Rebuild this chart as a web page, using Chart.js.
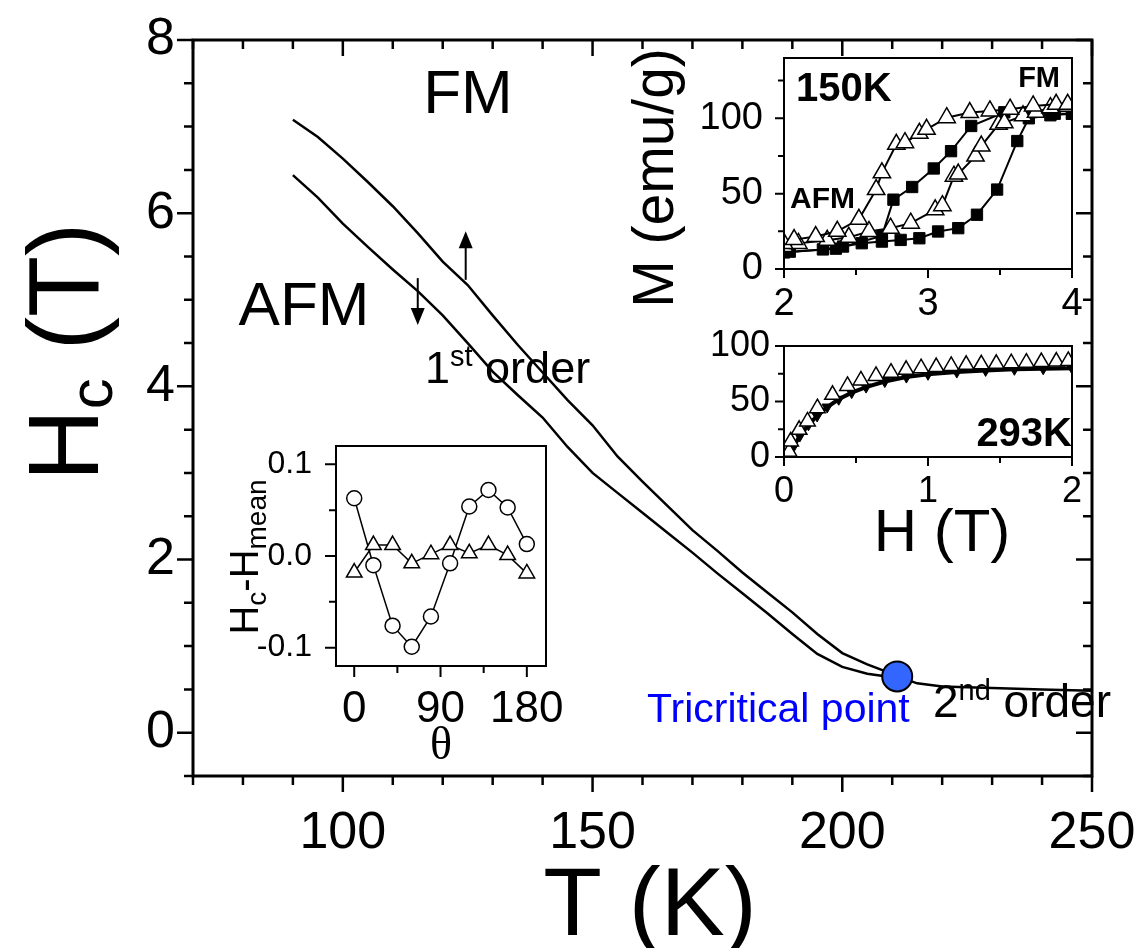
<!DOCTYPE html>
<html>
<head>
<meta charset="utf-8">
<script src="https://cdn.jsdelivr.net/npm/chart.js@4.4.0/dist/chart.umd.min.js"></script>
<style>
  html, body { margin: 0; padding: 0; background: #fff; }
  #wrap { position: relative; width: 1148px; height: 948px; overflow: hidden; }
  #wrap canvas { position: absolute; left: 0; top: 0; }
</style>
</head>
<body>
<div id="wrap">
  <canvas id="mainChart" width="1148" height="948"></canvas>
  <canvas id="thetaChart" width="1148" height="948"></canvas>
  <canvas id="loop150Chart" width="1148" height="948"></canvas>
  <canvas id="curve293Chart" width="1148" height="948"></canvas>
</div>
<script>
const FONT = "'Liberation Sans', Arial, Helvetica, sans-serif";
const SERIF = "'Liberation Serif', 'Times New Roman', serif";

// Critical field vs temperature (first-order branches)
const tempK = [90, 95, 100, 105, 110, 115, 120, 125, 130, 135, 140, 145, 150, 155, 160, 165, 170, 175, 180, 185, 190, 195, 200, 205, 210];
const hcIncreasing = [7.08, 6.88, 6.63, 6.36, 6.08, 5.77, 5.44, 5.17, 4.82, 4.48, 4.16, 3.84, 3.55, 3.19, 2.90, 2.62, 2.34, 2.10, 1.85, 1.62, 1.39, 1.14, 0.92, 0.79, 0.68];
const hcDecreasing = [6.44, 6.18, 5.88, 5.61, 5.35, 5.10, 4.82, 4.50, 4.17, 3.90, 3.64, 3.30, 3.00, 2.77, 2.54, 2.31, 2.08, 1.84, 1.61, 1.38, 1.14, 0.91, 0.76, 0.68, 0.64];
// second-order line above the tricritical point
const tempSecond = [211, 215, 220, 230, 240, 250];
const hcSecond = [0.65, 0.57, 0.535, 0.515, 0.50, 0.485];
const tricriticalT = 211;
const tricriticalH = 0.65;
const mainXTicks = [100, 150, 200, 250];
const mainYTicks = [0, 2, 4, 6, 8];

// Angular dependence of Hc - Hmean
const thetaDeg = [0, 20, 40, 60, 80, 100, 120, 140, 160, 180];
const dHcCircles = [0.063, -0.010, -0.076, -0.099, -0.066, -0.008, 0.054, 0.072, 0.053, 0.013];
const dHcTriangles = [-0.018, 0.012, 0.012, -0.008, 0.002, 0.012, 0.003, 0.012, 0.001, -0.019];
const thetaXTicks = [0, 90, 180];
const thetaYTicks = [-0.1, 0, 0.1];

// M(H) at 150 K: open triangles and filled squares, low- and high-field branches
const h150TriLow = [2.00, 2.07, 2.22, 2.37, 2.52, 2.64, 2.68, 2.78, 2.84, 2.94, 2.99, 3.13, 3.29, 3.43, 3.57, 3.73, 3.89, 3.97];
const m150TriLow = [17, 19.5, 21.5, 25, 33, 52.7, 63.8, 82.7, 83.8, 90, 92.7, 100.4, 103.8, 104.9, 106, 108.2, 109.3, 109.3];
const h150TriHigh = [2.00, 2.10, 2.30, 2.45, 2.59, 2.74, 2.88, 3.05, 3.10, 3.18, 3.21, 3.33, 3.37, 3.49, 3.53, 3.66, 3.75, 3.85, 3.97];
const m150TriHigh = [15, 17, 19, 21, 24.9, 27.1, 30.4, 39.3, 42, 61.6, 63, 74.9, 81.6, 96, 97, 101.6, 104, 107, 108];
const h150SqLow = [2.04, 2.36, 2.68, 2.76, 2.89, 3.04, 3.16, 3.30, 3.53, 3.70, 3.88, 4.00];
const m150SqLow = [11.5, 13.5, 22, 46, 54.4, 66.7, 78.2, 94.9, 104, 103, 103, 103];
const h150SqHigh = [2.00, 2.27, 2.41, 2.54, 2.68, 2.81, 2.94, 3.07, 3.21, 3.34, 3.48, 3.62, 3.70, 3.85, 4.00];
const m150SqHigh = [11, 13, 14.9, 17.1, 18.2, 19.3, 20.4, 24.9, 27.1, 36, 52.7, 84.9, 100, 102, 103];
const loopXTicks = [2, 3, 4];
const loopYTicks = [0, 50, 100];

// M(H) at 293 K
const h293Open = [0.035, 0.046, 0.105, 0.163, 0.232, 0.337, 0.441, 0.534, 0.639, 0.743, 0.848, 0.952, 1.057, 1.161, 1.265, 1.370, 1.474, 1.578, 1.683, 1.787, 1.891, 1.974];
const m293Open = [4.8, 14, 24.5, 32, 44, 56, 64, 69, 73, 76, 78.5, 80, 81, 82, 83, 83.5, 84, 84.5, 85, 85.5, 86, 86.5];
const h293Filled = [0.03, 0.06, 0.11, 0.17, 0.23, 0.30, 0.38, 0.47, 0.57, 0.70, 0.85, 1.0, 1.2, 1.4, 1.6, 1.8, 2.0];
const m293Filled = [2, 8, 19, 29, 37, 45, 52, 58, 63, 68, 72, 74.5, 76.5, 78, 79, 79.5, 80];
const roomXTicks = [0, 1, 2];
const roomYTicks = [0, 50, 100];

const pts = (xs, ys) => xs.map((x, i) => ({ x: x, y: ys[i] }));

// Box around the plot area plus major/minor tick marks on chosen sides
const framePlugin = {
  id: 'frame',
  beforeDraw(chart, args, opts) {
    if (!opts.fill) return;
    const a = chart.chartArea, ctx = chart.ctx;
    ctx.save();
    ctx.fillStyle = opts.fill;
    ctx.fillRect(a.left, a.top, a.right - a.left, a.bottom - a.top);
    ctx.restore();
  },
  afterDraw(chart, args, opts) {
    if (!opts.sides) return;
    const a = chart.chartArea, ctx = chart.ctx;
    ctx.save();
    ctx.strokeStyle = '#000';
    ctx.lineWidth = opts.tickWidth;
    ctx.beginPath();
    opts.sides.forEach(s => {
      const scale = chart.scales[s.axis];
      const majors = scale.ticks.map(t => t.value);
      const n0 = Math.ceil(scale.min / s.step - 1e-6);
      const n1 = Math.floor(scale.max / s.step + 1e-6);
      for (let n = n0; n <= n1; n++) {
        const v = n * s.step;
        const major = majors.some(m => Math.abs(m - v) < s.step * 1e-3);
        const len = (major ? s.major : s.minor) * (s.out ? 1 : -1);
        const p = scale.getPixelForValue(v);
        if (s.side === 'bottom') { ctx.moveTo(p, a.bottom); ctx.lineTo(p, a.bottom + len); }
        if (s.side === 'top') { ctx.moveTo(p, a.top); ctx.lineTo(p, a.top - len); }
        if (s.side === 'left') { ctx.moveTo(a.left, p); ctx.lineTo(a.left - len, p); }
        if (s.side === 'right') { ctx.moveTo(a.right, p); ctx.lineTo(a.right + len, p); }
      }
    });
    ctx.stroke();
    ctx.lineWidth = opts.lineWidth;
    ctx.strokeRect(a.left, a.top, a.right - a.left, a.bottom - a.top);
    ctx.restore();
  }
};

// Free text (with sub/superscripts) and arrows
const notesPlugin = {
  id: 'notes',
  afterDraw(chart, args, opts) {
    const ctx = chart.ctx;
    (opts.items || []).forEach(item => {
      ctx.save();
      ctx.translate(item.x, item.y);
      if (item.rotate) ctx.rotate(item.rotate);
      ctx.textAlign = 'left';
      ctx.textBaseline = 'alphabetic';
      const fontOf = p => (p.weight || item.weight || 'normal') + ' ' + p.size + 'px ' + (p.family || item.family || FONT);
      let total = 0;
      const widths = item.parts.map(p => {
        ctx.font = fontOf(p);
        const w = ctx.measureText(p.t).width;
        total += w;
        return w;
      });
      let x = item.align === 'center' ? -total / 2 : (item.align === 'right' ? -total : 0);
      item.parts.forEach((p, i) => {
        ctx.font = fontOf(p);
        ctx.fillStyle = p.color || item.color || '#000';
        ctx.fillText(p.t, x, p.dy || 0);
        x += widths[i];
      });
      ctx.restore();
    });
    (opts.arrows || []).forEach(ar => {
      const px = chart.scales.x.getPixelForValue(ar.at);
      const p0 = chart.scales.y.getPixelForValue(ar.from);
      const p1 = chart.scales.y.getPixelForValue(ar.to);
      const dir = Math.sign(p1 - p0);
      ctx.save();
      ctx.strokeStyle = '#000';
      ctx.fillStyle = '#000';
      ctx.lineWidth = 2;
      ctx.beginPath();
      ctx.moveTo(px, p0);
      ctx.lineTo(px, p1 - dir * 12);
      ctx.stroke();
      ctx.beginPath();
      ctx.moveTo(px, p1);
      ctx.lineTo(px - 7, p1 - dir * 17);
      ctx.lineTo(px + 7, p1 - dir * 17);
      ctx.closePath();
      ctx.fill();
      ctx.restore();
    });
  }
};

Chart.register(framePlugin, notesPlugin);

function axis(o) {
  const ticks = { font: { family: FONT, size: o.size }, color: '#000', padding: o.padding, autoSkip: false, maxRotation: 0, minRotation: 0 };
  if (o.format) ticks.callback = o.format;
  return {
    type: 'linear',
    position: o.position,
    min: o.min,
    max: o.max,
    grid: { display: false, drawTicks: false },
    border: { display: false },
    ticks: ticks,
    afterBuildTicks: s => { s.ticks = o.values.map(v => ({ value: v })); },
    afterFit: s => {
      if (o.width !== undefined) s.width = o.width;
      if (o.height !== undefined) s.height = o.height;
      // keep the plot box where the layout padding puts it
      s.paddingLeft = s.paddingRight = s.paddingTop = s.paddingBottom = 0;
    }
  };
}

// box = [left, top, right, bottom] of the plot area in page pixels
function makeChart(id, box, scales, datasets, plugins) {
  return new Chart(document.getElementById(id), {
    type: 'line',
    data: { datasets: datasets },
    options: {
      responsive: false,
      animation: false,
      events: [],
      layout: { padding: { left: 0, top: box[1], right: 1148 - box[2], bottom: 0 } },
      elements: { line: { tension: 0 } },
      scales: scales,
      plugins: Object.assign({ legend: { display: false }, tooltip: { enabled: false } }, plugins)
    }
  });
}

// ---- main phase diagram ----
const mainBox = [193, 40, 1092, 776];
makeChart('mainChart', mainBox, {
  x: axis({ position: 'bottom', min: 70, max: 250, values: mainXTicks, size: 52, padding: 26, height: 948 - mainBox[3] }),
  y: axis({ position: 'left', min: -0.5, max: 8, values: mainYTicks, size: 52, padding: 18, width: mainBox[0] })
}, [
  { data: [{ x: tricriticalT, y: tricriticalH }], showLine: false, pointRadius: 15, pointBackgroundColor: '#3366ff', pointBorderColor: '#000', pointBorderWidth: 2 },
  { data: pts(tempK, hcIncreasing), borderColor: '#000', borderWidth: 2.5, pointRadius: 0 },
  { data: pts(tempK, hcDecreasing), borderColor: '#000', borderWidth: 2.5, pointRadius: 0 },
  { data: pts(tempSecond, hcSecond), borderColor: '#000', borderWidth: 2.5, pointRadius: 0 }
], {
  frame: {
    lineWidth: 3, tickWidth: 2.5,
    sides: [
      { side: 'bottom', axis: 'x', out: true, major: 16, minor: 9, step: 10 },
      { side: 'top', axis: 'x', out: false, major: 16, minor: 9, step: 10 },
      { side: 'left', axis: 'y', out: true, major: 16, minor: 9, step: 0.5 },
      { side: 'right', axis: 'y', out: false, major: 16, minor: 9, step: 0.5 }
    ]
  },
  notes: {
    items: [
      { x: 468, y: 113, align: 'center', parts: [{ t: 'FM', size: 62 }] },
      { x: 304, y: 325, align: 'center', parts: [{ t: 'AFM', size: 62 }] },
      { x: 425, y: 383, parts: [{ t: '1', size: 45 }, { t: 'st', size: 29, dy: -17 }, { t: ' order', size: 45 }] },
      { x: 647, y: 722, color: '#0000ff', parts: [{ t: 'Tricritical point', size: 41 }] },
      { x: 933, y: 717, parts: [{ t: '2', size: 46 }, { t: 'nd', size: 29, dy: -17 }, { t: ' order', size: 46 }] },
      { x: 650, y: 935, align: 'center', parts: [{ t: 'T (K)', size: 96 }] },
      { x: 98, y: 352, align: 'center', rotate: -Math.PI / 2, parts: [{ t: 'H', size: 100 }, { t: 'c', size: 62, dy: 14 }, { t: ' (T)', size: 100 }] }
    ],
    arrows: [
      { at: 124.6, from: 5.23, to: 5.79 },
      { at: 115, from: 5.25, to: 4.71 }
    ]
  }
});

// ---- inset: Hc - Hmean vs angle ----
const thetaBox = [336, 446, 546, 666];
makeChart('thetaChart', thetaBox, {
  x: axis({ position: 'bottom', min: -19, max: 200, values: thetaXTicks, size: 44, padding: 17, height: 948 - thetaBox[3] }),
  y: axis({ position: 'left', min: -0.12, max: 0.12, values: thetaYTicks, size: 32, padding: 24, width: thetaBox[0], format: v => v.toFixed(1) })
}, [
  { data: pts(thetaDeg, dHcTriangles), borderColor: '#000', borderWidth: 1.5, pointStyle: 'triangle', pointRadius: 9, pointBackgroundColor: '#fff', pointBorderColor: '#000', pointBorderWidth: 1.5 },
  { data: pts(thetaDeg, dHcCircles), borderColor: '#000', borderWidth: 1.5, pointStyle: 'circle', pointRadius: 7.5, pointBackgroundColor: '#fff', pointBorderColor: '#000', pointBorderWidth: 1.5 }
], {
  frame: {
    fill: '#fff', lineWidth: 2, tickWidth: 2,
    sides: [
      { side: 'bottom', axis: 'x', out: true, major: 11, minor: 7, step: 45 },
      { side: 'left', axis: 'y', out: true, major: 11, minor: 7, step: 0.05 }
    ]
  },
  notes: {
    items: [
      { x: 441, y: 759, align: 'center', parts: [{ t: 'θ', size: 46, family: SERIF }] },
      { x: 258, y: 557, align: 'center', rotate: -Math.PI / 2, parts: [
        { t: 'H', size: 40 }, { t: 'c', size: 28, dy: 8 }, { t: '-H', size: 40 }, { t: 'mean', size: 28, dy: 8 }
      ] }
    ]
  }
});

// ---- inset: M(H) loops at 150 K ----
const loopBox = [784, 58, 1072, 269];
makeChart('loop150Chart', loopBox, {
  x: axis({ position: 'bottom', min: 2, max: 4, values: loopXTicks, size: 38, padding: 13, height: 948 - loopBox[3] }),
  y: axis({ position: 'left', min: 0, max: 140, values: loopYTicks, size: 38, padding: 21, width: loopBox[0] })
}, [
  { data: pts(h150TriLow, m150TriLow), borderColor: '#000', borderWidth: 2, pointStyle: 'triangle', pointRadius: 10, pointBackgroundColor: '#fff', pointBorderColor: '#000', pointBorderWidth: 1.5 },
  { data: pts(h150TriHigh, m150TriHigh), borderColor: '#000', borderWidth: 2, pointStyle: 'triangle', pointRadius: 10, pointBackgroundColor: '#fff', pointBorderColor: '#000', pointBorderWidth: 1.5 },
  { data: pts(h150SqLow, m150SqLow), borderColor: '#000', borderWidth: 2, pointStyle: 'rect', pointRadius: 8, pointBackgroundColor: '#000', pointBorderColor: '#000', pointBorderWidth: 1 },
  { data: pts(h150SqHigh, m150SqHigh), borderColor: '#000', borderWidth: 2, pointStyle: 'rect', pointRadius: 8, pointBackgroundColor: '#000', pointBorderColor: '#000', pointBorderWidth: 1 }
], {
  frame: {
    fill: '#fff', lineWidth: 2, tickWidth: 2,
    sides: [
      { side: 'bottom', axis: 'x', out: true, major: 9, minor: 6, step: 0.5 },
      { side: 'left', axis: 'y', out: true, major: 9, minor: 6, step: 25 }
    ]
  },
  notes: {
    items: [
      { x: 796, y: 101, weight: 'bold', parts: [{ t: '150K', size: 40 }] },
      { x: 1060, y: 87, align: 'right', weight: 'bold', parts: [{ t: 'FM', size: 29 }] },
      { x: 790, y: 208, weight: 'bold', parts: [{ t: 'AFM', size: 30 }] },
      { x: 673, y: 178, align: 'center', rotate: -Math.PI / 2, parts: [{ t: 'M (emu/g)', size: 57 }] }
    ]
  }
});

// ---- inset: M(H) at 293 K ----
const roomBox = [784, 346, 1072, 457];
makeChart('curve293Chart', roomBox, {
  x: axis({ position: 'bottom', min: 0, max: 2, values: roomXTicks, size: 36, padding: 13, height: 948 - roomBox[3] }),
  y: axis({ position: 'left', min: 0, max: 100, values: roomYTicks, size: 36, padding: 14, width: roomBox[0] })
}, [
  { data: pts(h293Open, m293Open), borderColor: 'rgba(0,0,0,0)', borderWidth: 0, pointStyle: 'triangle', pointRadius: 9, pointBackgroundColor: '#fff', pointBorderColor: '#000', pointBorderWidth: 1.5 },
  { data: pts(h293Filled, m293Filled), borderColor: '#000', borderWidth: 4, pointStyle: 'triangle', pointRotation: 180, pointRadius: 6, pointBackgroundColor: '#000', pointBorderColor: '#000', pointBorderWidth: 1 }
], {
  frame: {
    fill: '#fff', lineWidth: 2, tickWidth: 2,
    sides: [
      { side: 'bottom', axis: 'x', out: true, major: 9, minor: 6, step: 0.5 },
      { side: 'left', axis: 'y', out: true, major: 9, minor: 6, step: 25 }
    ]
  },
  notes: {
    items: [
      { x: 1072, y: 446, align: 'right', weight: 'bold', parts: [{ t: '293K', size: 40 }] },
      { x: 942, y: 551, align: 'center', parts: [{ t: 'H (T)', size: 60 }] }
    ]
  }
});
</script>
</body>
</html>
